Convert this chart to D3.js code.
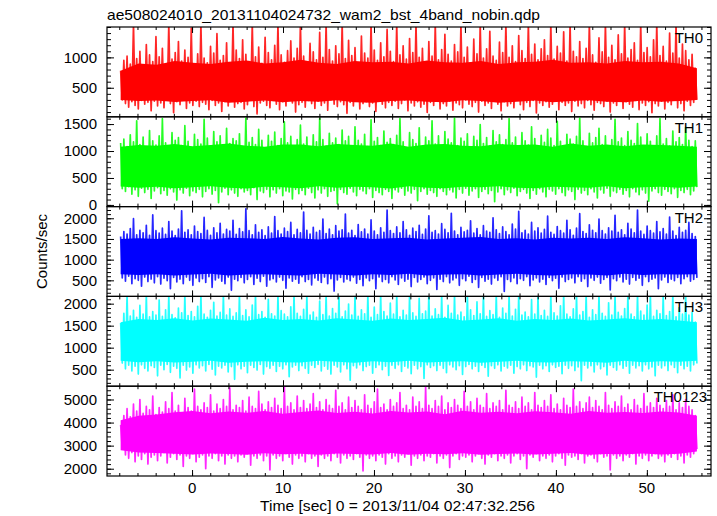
<!DOCTYPE html>
<html><head><meta charset="utf-8">
<script src="https://cdn.jsdelivr.net/npm/d3@7"></script>
<style>
body{margin:0;background:#fff}
text{font-family:"Liberation Sans",Arial,Helvetica,sans-serif;fill:#000}
</style>
</head><body>
<svg id="chart" width="717" height="516"></svg>
<script>
const titleText = "ae508024010_20131104024732_wam2_bst_4band_nobin.qdp";
const xLabelText = "Time [sec] 0 = 2013/11/04 02:47:32.256";
const yLabelText = "Counts/sec";
const bandNames = ["TH0", "TH1", "TH2", "TH3", "TH0123"];
const bandColors = ["#ff0000", "#00ff00", "#0000ff", "#00ffff", "#ff00ff"];
const yDomains = [[22, 1500], [-31, 1635], [112, 2282], [124, 2165], [1684, 5576]];
const yTickValues = [[500, 1000], [0, 500, 1000, 1500], [500, 1000, 1500, 2000], [500, 1000, 1500, 2000], [2000, 3000, 4000, 5000]];
const yMinorSteps = [100, 100, 100, 100, 200];
const xDomain = [-9.35, 57.05];
const xTickValues = [0, 10, 20, 30, 40, 50];
const xMinorStep = 2;
const tStart = -7.85, tEnd = 55.5;

// light-curve samples (alternating local peaks / troughs), counts/sec
const th0 = [
780,300, 950,240, 1020,180, 890,270, 1550,210, 980,150, 1100,290, 860,230, 1210,260, 1040,120, 930,280, 1340,200,
1010,250, 1150,170, 880,310, 1550,240, 970,90, 1080,270, 1260,220, 940,300, 1120,160, 1000,250, 1480,210, 870,280,
1060,190, 1550,260, 990,230, 910,140, 1180,290, 1070,210, 1390,250, 950,110, 1030,270, 1240,200, 890,310, 1550,180,
1120,240, 980,260, 1290,150, 1050,220, 930,300, 1550,190, 1010,70, 1170,250, 900,280, 1330,210, 1080,170, 960,290,
1200,230, 1550,140, 1040,270, 920,200, 1110,310, 1270,250, 990,100, 1150,220, 1550,260, 1020,180, 880,290, 1230,240,
1090,160, 960,280, 1410,210, 1000,250, 1550,130, 1130,300, 940,230, 1190,190, 1060,270, 1550,220, 980,80, 1280,260,
1030,200, 1160,290, 910,150, 1350,240, 1070,270, 990,190, 1550,250, 1120,110, 950,300, 1240,230, 1010,170, 1460,260,
1100,210, 930,280, 1550,160, 1040,240, 1190,300, 970,120, 1310,250, 1080,200, 1550,270, 1000,180, 1150,230, 890,95,
1260,260, 1020,210, 1550,290, 960,150, 1130,240, 1380,200, 1050,280, 940,130, 1210,250, 1090,220, 1550,170, 1000,300,
1170,230, 910,190, 1300,260, 1060,100, 1550,280, 990,210, 1140,250, 1430,160, 1020,290, 950,230, 1250,120, 1080,270,
1550,200, 1000,240, 1190,170, 930,300, 1360,220, 1110,140, 980,260, 1550,190, 1050,290, 1220,85, 960,250, 1140,210,
1290,270, 1030,180, 1550,230, 970,300, 1180,140, 1070,260, 1420,210, 940,250, 1550,110, 1100,280, 1010,200, 1260,240,
980,170, 1150,290, 1550,220, 1040,130, 920,260, 1320,240, 1090,190, 1550,280, 1000,100, 1200,250, 960,210, 1370,300,
1060,160, 1550,270, 990,230, 1130,180, 1240,290, 950,140, 1550,250, 1080,210, 1160,270, 1010,90, 1290,240, 1550,200,
1030,280, 1180,150, 940,260, 1400,220, 1070,300, 1550,170, 990,240, 1220,120, 1110,280, 960,210, 1050,260, 820,300
];
const th1 = [
1150,300, 1220,250, 1080,340, 1300,200, 1170,280, 1560,160, 1120,310, 1260,230, 1040,290, 1380,120, 1190,260, 1110,320,
1280,210, 1600,270, 1150,180, 1070,300, 1340,240, 1200,90, 1250,280, 1100,220, 1470,310, 1180,170, 1060,260, 1310,230,
1210,290, 1130,150, 1590,250, 1240,300, 1090,200, 1360,270, 1170,40, 1280,240, 1050,310, 1420,190, 1140,280, 1230,220,
1190,160, 1320,300, 1080,240, 1610,270, 1160,190, 1250,320, 1120,100, 1400,260, 1200,230, 1060,290, 1290,150, 1180,280,
1350,220, 1100,300, 1230,170, 1540,260, 1150,240, 1270,110, 1080,290, 1210,210, 1480,270, 1130,190, 1260,310, 1040,230,
1300,130, 1170,280, 1600,220, 1210,300, 1090,160, 1330,250, 1150,270, 1240,20, 1120,290, 1390,230, 1190,200, 1270,310,
1060,240, 1450,170, 1200,290, 1130,260, 1310,210, 1080,300, 1580,140, 1180,270, 1250,230, 1100,190, 1370,290, 1160,250,
1230,120, 1120,280, 1290,240, 1600,310, 1170,180, 1050,260, 1340,220, 1210,290, 1140,80, 1430,250, 1090,300, 1260,200,
1190,270, 1560,230, 1130,160, 1280,300, 1070,250, 1360,190, 1220,280, 1150,240, 1610,130, 1100,290, 1240,220, 1180,310,
1320,180, 1060,260, 1270,300, 1200,140, 1490,250, 1140,290, 1250,210, 1090,270, 1380,60, 1170,240, 1300,300, 1120,190,
1210,280, 1600,230, 1150,310, 1260,170, 1080,250, 1340,290, 1190,220, 1110,120, 1450,270, 1230,200, 1070,300, 1290,240,
1160,150, 1400,290, 1240,260, 1100,200, 1550,300, 1180,230, 1050,170, 1310,280, 1220,250, 1130,100, 1270,290, 1610,220,
1190,270, 1080,190, 1330,300, 1150,240, 1250,130, 1420,280, 1120,220, 1280,310, 1060,160, 1210,260, 1590,230, 1170,290,
1240,200, 1100,270, 1360,150, 1200,300, 1140,240, 1510,190, 1260,280, 1080,220, 1320,70, 1180,260, 1050,300, 1280,230,
1600,180, 1130,290, 1230,250, 1090,210, 1370,300, 1170,140, 1250,270, 1120,230, 1440,290, 1200,190, 1080,260, 1190,330
];
const th2 = [
1560,560, 1680,480, 1620,600, 1750,420, 1990,540, 1600,500, 1710,360, 1650,580, 1830,470, 1590,530, 2080,440, 1700,590,
1640,410, 1760,550, 1610,490, 1920,300, 1690,570, 1580,460, 1740,530, 2180,420, 1660,580, 1720,500, 1600,380, 1810,560,
1680,470, 1630,540, 2020,450, 1710,590, 1590,330, 1770,510, 1650,560, 1880,480, 1620,420, 1730,580, 1690,260, 1950,530,
1610,490, 1750,570, 1670,440, 2230,520, 1700,590, 1600,400, 1840,550, 1660,470, 1720,600, 1580,360, 1790,510, 1640,540,
2040,460, 1700,580, 1620,500, 1760,310, 1680,560, 1900,480, 1600,530, 1730,430, 1650,590, 2150,470, 1710,520, 1620,390,
1780,560, 1660,500, 1700,450, 1980,580, 1630,420, 1740,540, 1600,240, 1820,510, 1690,570, 1720,460, 2100,530, 1640,490,
1710,580, 1580,430, 1850,520, 1670,370, 1740,560, 1620,490, 1960,540, 1690,300, 1600,580, 1770,470, 1660,520, 2200,440,
1700,590, 1630,510, 1790,400, 1650,560, 1920,480, 1720,530, 1590,350, 1760,570, 1680,460, 1830,520, 1610,580, 1740,420,
2060,500, 1660,560, 1700,280, 1620,530, 1870,470, 1730,590, 1650,440, 2120,510, 1690,560, 1600,380, 1780,540, 1670,490,
1710,600, 1940,450, 1640,520, 1750,330, 1600,570, 1820,480, 1690,530, 1660,410, 2010,560, 1720,500, 1630,590, 1790,230,
1680,520, 1600,470, 1860,560, 1740,420, 2170,540, 1650,500, 1710,590, 1620,370, 1900,510, 1690,560, 1770,460, 1640,530,
1730,400, 2050,570, 1660,490, 1610,550, 1800,310, 1700,580, 1640,470, 1950,520, 1720,560, 1590,440, 1760,590, 2110,480,
1680,540, 1630,350, 1840,560, 1710,500, 1650,580, 1980,430, 1700,520, 1620,570, 1770,270, 1690,540, 2070,490, 1660,580,
1720,460, 1600,530, 1880,410, 1740,570, 1650,500, 2200,550, 1690,380, 1610,590, 1810,470, 1700,530, 1640,560, 1920,300,
1670,510, 1750,580, 1620,450, 2030,530, 1690,490, 1580,570, 1780,420, 1660,540, 1710,590, 1900,480, 1630,520, 1560,560
];
const th3 = [
1560,650, 1780,520, 2200,600, 1720,470, 1850,580, 1690,400, 1960,610, 1760,530, 2200,470, 1700,590, 1820,550, 1740,360,
2080,600, 1710,500, 1860,620, 2200,440, 1750,580, 1680,530, 1900,310, 1790,600, 2200,490, 1730,560, 1820,420, 1700,610,
1940,540, 2200,590, 1760,470, 1690,620, 1850,510, 2030,380, 1720,580, 1800,540, 2200,600, 1740,450, 1880,570, 1710,280,
1790,610, 2200,520, 1730,580, 1860,430, 1700,600, 1970,550, 2200,490, 1750,620, 1820,400, 1690,570, 2100,530, 1770,600,
1720,460, 2200,580, 1840,520, 1760,610, 1700,340, 1930,560, 2200,600, 1780,480, 1710,590, 1870,530, 2200,420, 1740,600,
1810,550, 1690,620, 2060,470, 1750,580, 2200,510, 1720,400, 1890,600, 1780,560, 2200,450, 1700,610, 1830,520, 1990,260,
1740,590, 2200,540, 1710,610, 1860,480, 1770,570, 2200,600, 1690,420, 1920,550, 1750,610, 2200,500, 1820,580, 1720,370,
2010,600, 1760,530, 2200,610, 1700,460, 1850,580, 1740,540, 2200,410, 1790,600, 1710,520, 2120,570, 1770,300, 1830,610,
2200,550, 1720,590, 1880,480, 1750,600, 2200,530, 1690,430, 1960,610, 1780,560, 2200,500, 1740,590, 1810,390, 1700,570,
2200,620, 1860,520, 1730,580, 2040,460, 1770,600, 2200,550, 1710,350, 1840,590, 1750,530, 2200,610, 1690,470, 1900,580,
1780,540, 2200,600, 1720,420, 1870,570, 2200,520, 1740,610, 1810,480, 1700,590, 2090,560, 1760,330, 2200,600, 1730,520,
1850,590, 1710,460, 2200,610, 1790,550, 1720,580, 1950,410, 2200,600, 1760,530, 1700,590, 1880,480, 2200,560, 1740,250,
1820,600, 2200,540, 1690,590, 1860,450, 1750,610, 2200,520, 1780,570, 1710,380, 2020,600, 1740,550, 2200,490, 1800,610,
1720,530, 1890,580, 2200,420, 1760,600, 1700,540, 2200,590, 1830,470, 1740,610, 1970,520, 2200,560, 1710,360, 1850,600,
1770,540, 2200,590, 1730,480, 1820,610, 2200,550, 1700,430, 1910,600, 1760,520, 2200,580, 1740,470, 1800,610, 1580,640
];
const th0123 = [
3900,2900, 4300,2600, 4600,2450, 4250,2700, 4800,2300, 4500,2550, 5000,2400, 4400,2650, 4700,2200, 4550,2500, 5150,2600, 4350,2350,
4650,2550, 4450,2700, 4900,2250, 4600,2500, 5300,2650, 4500,2400, 4750,2600, 4400,2100, 5050,2550, 4650,2450, 4500,2650, 5450,2300,
4700,2500, 4550,2600, 4850,2000, 4650,2550, 5200,2450, 4500,2650, 4800,2350, 4600,2550, 5000,2200, 4700,2600, 5500,2450, 4550,2550,
4750,2300, 4650,2600, 4950,2500, 4500,2650, 5100,2150, 4700,2550, 4600,2450, 5350,2600, 4800,2350, 4550,2550, 4900,1950, 4650,2600,
5050,2450, 4750,2550, 4600,2350, 5550,2650, 4700,2500, 4850,2200, 4550,2600, 5150,2450, 4650,2550, 4950,2300, 4600,2650, 4800,2450,
5250,2550, 4650,2100, 4900,2600, 4550,2450, 5000,2550, 4750,2350, 4600,2650, 5400,2500, 4700,2250, 4850,2600, 4550,2450, 5100,2550,
4650,2400, 4950,2650, 4700,2500, 4550,1900, 5200,2600, 4750,2450, 4600,2550, 4900,2350, 5450,2600, 4650,2500, 4800,2200, 4550,2650,
5000,2450, 4700,2550, 4850,2300, 5300,2600, 4600,2500, 4750,2650, 4550,2150, 5100,2550, 4700,2450, 4900,2600, 4600,2350, 5550,2550,
4750,2500, 4600,2650, 4950,2250, 4700,2550, 5150,2450, 4550,2600, 4850,2050, 4650,2550, 5000,2650, 4750,2400, 4600,2550, 5350,2500,
4700,2600, 4900,2300, 4550,2550, 5050,2650, 4750,2450, 4650,2200, 5250,2600, 4600,2500, 4850,2650, 4700,2350, 4950,2550, 4550,2450,
5400,2600, 4750,2250, 4650,2550, 4900,2650, 4600,2400, 5100,2550, 4700,2000, 4850,2600, 4550,2500, 5300,2650, 4750,2350, 4650,2550,
4950,2450, 4700,2600, 5200,2300, 4600,2550, 4800,2650, 4550,2450, 5050,2150, 4750,2600, 4650,2500, 5450,2550, 4700,2400, 4900,2650,
4600,2250, 4850,2550, 5100,2600, 4650,2450, 4950,2300, 4700,2650, 4550,2500, 5300,2550, 4750,1950, 4600,2600, 4900,2450, 4700,2550,
5150,2350, 4650,2600, 4800,2500, 4550,2650, 5000,2200, 4750,2550, 4600,2450, 5250,2600, 4700,2350, 4850,2550, 4650,2650, 5050,2450,
4750,2550, 4600,2300, 4950,2600, 4700,2500, 5200,2650, 4550,2400, 4850,2550, 4650,2250, 5000,2600, 4700,2500, 4550,2650, 4300,2850
];

// dense core of each light curve (upper / lower edge of the solid band, every ~2 s)
const th0CoreHi = [780,900,880,940,910,890,930,950,900,920,960,910,890,940,920,930,900,950,920,910,940,890,920,930,960,910,920,900,940,920,930,900,820];
const th0CoreLo = [300,280,290,265,280,295,255,270,290,260,280,270,295,260,255,280,290,270,260,295,280,255,270,290,260,280,295,270,260,290,270,280,300];
const th1CoreHi = [1080,1110,1100,1130,1090,1110,1140,1100,1080,1120,1120,1090,1130,1110,1100,1140,1080,1120,1130,1100,1090,1130,1110,1120,1080,1140,1100,1120,1090,1120,1110,1100,1080];
const th1CoreLo = [340,320,335,310,330,345,320,305,335,330,310,345,320,335,330,305,345,320,310,335,330,345,320,310,335,330,320,345,310,330,335,320,340];
const th2CoreHi = [1500,1520,1500,1540,1510,1490,1530,1520,1500,1550,1510,1490,1530,1540,1500,1520,1530,1490,1510,1530,1550,1500,1520,1490,1530,1510,1530,1500,1540,1520,1490,1510,1500];
const th2CoreLo = [650,630,650,620,640,660,615,640,650,630,620,660,640,615,650,630,660,620,640,650,615,640,660,630,620,650,640,615,660,630,650,640,650];
const th3CoreHi = [1580,1650,1630,1670,1620,1660,1640,1610,1680,1630,1650,1620,1670,1640,1610,1660,1630,1650,1680,1620,1640,1670,1610,1650,1630,1660,1620,1640,1670,1630,1650,1620,1580];
const th3CoreLo = [700,670,690,660,680,700,655,680,690,670,660,700,680,655,690,670,700,660,680,690,655,680,700,670,660,690,680,655,700,670,690,680,700];
const th0123CoreHi = [4100,4300,4350,4450,4500,4400,4480,4420,4500,4380,4460,4520,4410,4470,4390,4500,4440,4480,4360,4510,4430,4470,4400,4490,4450,4380,4500,4420,4460,4410,4480,4440,4300];
const th0123CoreLo = [2800,2700,2680,2650,2620,2660,2640,2610,2670,2630,2650,2600,2660,2640,2620,2680,2610,2650,2630,2670,2600,2640,2660,2620,2650,2680,2610,2640,2630,2660,2620,2650,2750];

const seriesValues = [th0, th1, th2, th3, th0123];
const coreHi = [th0CoreHi, th1CoreHi, th2CoreHi, th3CoreHi, th0123CoreHi];
const coreLo = [th0CoreLo, th1CoreLo, th2CoreLo, th3CoreLo, th0123CoreLo];

// ---- layout ----
const plotLeft = 107, plotRight = 711, plotTop = 27, plotBottom = 476;
const nPanels = bandNames.length;
const panelH = (plotBottom - plotTop) / nPanels;

const svg = d3.select("#chart");
const x = d3.scaleLinear().domain(xDomain).range([plotLeft, plotRight]);
const defs = svg.append("defs");

function minorTicks(lo, hi, step) {
  const out = [];
  for (let v = Math.ceil(lo / step) * step; v <= hi + 1e-9; v += step) out.push(+v.toFixed(6));
  return out;
}

seriesValues.forEach((vals, i) => {
  const top = plotTop + i * panelH, bot = top + panelH;
  const y = d3.scaleLinear().domain(yDomains[i]).range([bot, top]);
  const tScale = d3.scaleLinear().domain([0, vals.length - 1]).range([tStart, tEnd]);
  const cScale = d3.scaleLinear().domain([0, coreHi[i].length - 1]).range([tStart, tEnd]);

  defs.append("clipPath").attr("id", "clip" + i)
    .append("rect").attr("x", plotLeft).attr("y", top).attr("width", plotRight - plotLeft).attr("height", panelH);

  const g = svg.append("g");
  const dg = g.append("g").attr("clip-path", "url(#clip" + i + ")");

  const area = d3.area()
    .x((d, k) => x(cScale(k)))
    .y0((d, k) => y(coreLo[i][k]))
    .y1(d => y(d));
  dg.append("path").datum(coreHi[i])
    .attr("d", area)
    .attr("fill", bandColors[i]);

  const line = d3.line().x((d, k) => x(tScale(k))).y(d => y(d));
  dg.append("path").datum(vals)
    .attr("d", line)
    .attr("fill", "none")
    .attr("stroke", bandColors[i])
    .attr("stroke-opacity", 0.85)
    .attr("stroke-width", 1.7)
    .attr("stroke-linejoin", "round");

  const yMaj = yTickValues[i];
  const yMin = minorTicks(yDomains[i][0], yDomains[i][1], yMinorSteps[i]);
  const xMin = minorTicks(xDomain[0], xDomain[1], xMinorStep);
  const axes = [
    [d3.axisRight(y).tickValues(yMaj).tickSize(7), `translate(${plotLeft},0)`],
    [d3.axisRight(y).tickValues(yMin).tickSize(4), `translate(${plotLeft},0)`],
    [d3.axisLeft(y).tickValues(yMaj).tickSize(7), `translate(${plotRight},0)`],
    [d3.axisLeft(y).tickValues(yMin).tickSize(4), `translate(${plotRight},0)`],
    [d3.axisBottom(x).tickValues(xTickValues).tickSize(6), `translate(0,${top})`],
    [d3.axisBottom(x).tickValues(xMin).tickSize(3), `translate(0,${top})`],
    [d3.axisTop(x).tickValues(xTickValues).tickSize(6), `translate(0,${bot})`],
    [d3.axisTop(x).tickValues(xMin).tickSize(3), `translate(0,${bot})`]
  ];
  axes.forEach(([ax, tr]) => {
    const a = g.append("g").attr("transform", tr).call(ax.tickFormat(""));
    a.select(".domain").remove();
    a.selectAll("text").remove();
    a.selectAll("line").attr("stroke", "#000").attr("stroke-width", 1);
  });

  g.selectAll(".ylab").data(yMaj).enter().append("text")
    .attr("x", plotLeft - 10).attr("y", d => y(d)).attr("dy", "0.36em")
    .attr("text-anchor", "end").attr("font-size", 15).text(d => d);

  g.append("rect").attr("x", plotLeft).attr("y", top).attr("width", plotRight - plotLeft).attr("height", panelH)
    .attr("fill", "none").attr("stroke", "#000").attr("stroke-width", 1.2);

  g.append("text").attr("x", plotRight - (i === nPanels - 1 ? 4 : 8)).attr("y", top + 16)
    .attr("text-anchor", "end").attr("font-size", 15).text(bandNames[i]);
});

svg.selectAll(".xlab").data(xTickValues).enter().append("text")
  .attr("x", d => x(d)).attr("y", plotBottom + 17)
  .attr("text-anchor", "middle").attr("font-size", 15).text(d => d);

svg.append("text").attr("x", plotLeft).attr("y", 20).attr("font-size", 15)
  .attr("textLength", 433).attr("lengthAdjust", "spacingAndGlyphs").text(titleText);
svg.append("text").attr("x", 260).attr("y", 511).attr("font-size", 15)
  .attr("textLength", 275).attr("lengthAdjust", "spacingAndGlyphs").text(xLabelText);
svg.append("text").attr("transform", `translate(47,${(plotTop + plotBottom) / 2}) rotate(-90)`)
  .attr("text-anchor", "middle").attr("font-size", 15).text(yLabelText);
</script>
</body></html>
